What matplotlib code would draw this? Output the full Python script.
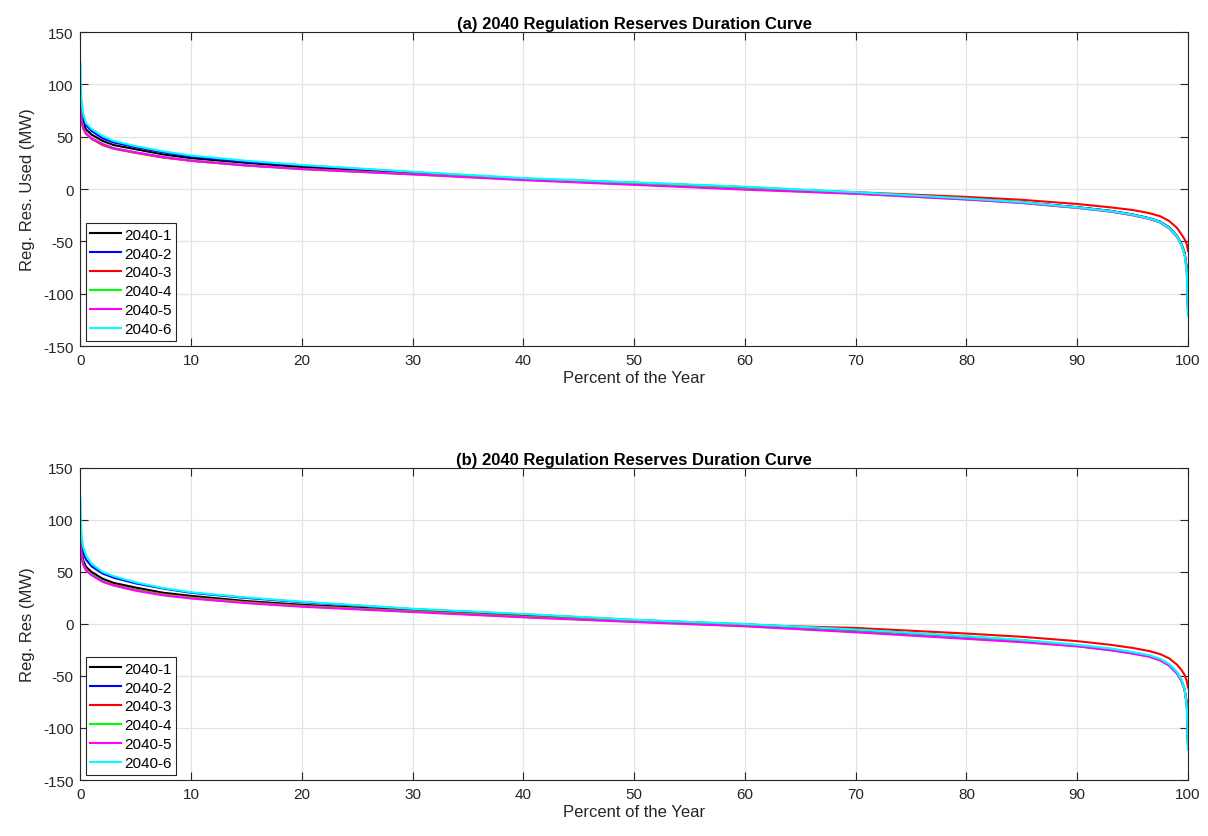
import matplotlib
matplotlib.use("Agg")
import matplotlib.pyplot as plt

plt.rcParams['font.family'] = ['Liberation Sans', 'DejaVu Sans']
plt.rcParams['axes.unicode_minus'] = False

# percent of the year at which values were read
pct = [0, 0.03, 0.1, 0.25, 0.5, 1, 2, 3, 5, 7.5, 10, 15, 20, 30, 40, 50, 60, 70, 80,
       85, 90, 93, 95, 96.5, 97.5, 98.3, 99, 99.4, 99.7, 99.9, 100]

nombres = ["2040-1", "2040-2", "2040-3", "2040-4", "2040-5", "2040-6"]
colores = ["#000000", "#0000ff", "#ff0000", "#00ff00", "#ff00ff", "#00ffff"]

# (a) Reg. Res. Used
a_1 = [90, 82, 72, 63, 57, 52, 46, 42, 38, 33, 29.5, 25, 21, 15.5, 9.5, 5.2, 1, -3.8, -9.5,
       -12.8, -17.3, -20.8, -24.3, -27.8, -31.2, -36.5, -44.5, -52, -61, -76, -110]
a_2 = [100, 90, 78, 68, 61, 55.5, 48.5, 44.5, 40, 35, 31, 26, 22.5, 16, 10, 6, 1.8, -3.5, -9.3,
       -12.7, -17.5, -21, -24.5, -28, -31.5, -37, -45, -53, -62, -78, -115]
a_3 = [85, 76, 66, 58, 53, 48, 42, 38.5, 34.5, 30, 27, 22.5, 19.5, 14.5, 9.5, 5, 0.5, -3, -7.5,
       -10.3, -14.3, -17.5, -20, -23, -26, -30.5, -37, -43, -48, -53, -59]
a_4 = [85, 76, 66, 58, 53, 48.5, 43, 39, 35, 30.5, 27, 22.5, 19, 14, 9, 4.5, 0, -4.5, -10,
       -13.3, -18, -21.5, -25, -28.5, -32, -37.5, -45.5, -53, -62, -77, -110]
a_5 = [80, 74, 65, 58, 53, 48.5, 43, 39, 35, 30.5, 27, 22.5, 19, 14, 8.5, 4, -0.6, -4.5, -10,
       -13.3, -18, -21.5, -25, -28.5, -32, -37.5, -45.5, -53, -62, -77, -115]
a_6 = [121, 100, 84, 72, 63, 57.5, 50.5, 46, 41, 36, 32, 27, 23, 16.5, 10.5, 6.4, 2.2, -3, -9,
       -12.5, -17.5, -21, -24.5, -28, -31.5, -37, -45, -53, -63, -80, -121]

# (b) Reg. Res
b_1 = [88, 80, 70, 61, 55, 50, 43.5, 39.5, 35, 30, 27, 22, 18.5, 13, 8, 3, -1, -6.5, -13,
       -16.3, -21, -24.5, -28, -31, -34.5, -39.5, -47, -54, -63, -77, -112]
b_2 = [100, 90, 79, 69, 62, 55.5, 48.5, 44.5, 39, 34, 30, 25, 21, 14.3, 9.2, 3.8, -0.3, -5.8, -12.2,
       -15.7, -20.5, -24, -27.5, -30.5, -34, -39, -46.5, -53.5, -63, -78, -118]
b_3 = [85, 76, 66, 58, 52.5, 47.5, 41, 37.5, 33, 28.5, 25.5, 21, 17.5, 12.5, 7.5, 3, -1, -3.8, -9.2,
       -12.3, -16.5, -20, -23, -26, -29, -33, -39, -44, -49, -55, -61]
b_4 = [84, 75, 65, 57, 52, 47.5, 41, 37, 32.5, 28, 25, 20.5, 17, 12, 6.8, 2.2, -2, -7.5, -13.8,
       -17, -21.3, -25, -28.3, -31.3, -35, -40, -47.5, -54.5, -63, -77, -112]
b_5 = [82, 75, 65, 57, 51.5, 47, 40.5, 37, 32, 27.5, 24.5, 20, 16.6, 11.5, 6.4, 1.9, -2.2, -8, -14.3,
       -17.5, -21.5, -25.3, -28.5, -31.5, -35, -40, -47.5, -54.5, -63, -77, -115]
b_6 = [121, 100, 85, 74, 66, 58, 50, 46, 40, 34.5, 30.5, 25.5, 21.4, 14.6, 9.6, 4.1, 0, -5.4, -11.8,
       -15.3, -20, -23.5, -27, -30, -33.5, -38.5, -46, -53, -63, -80, -121]

fig = plt.figure(figsize=(12.08, 8.37), dpi=100)
ax1 = fig.add_axes([0.0666, 0.5854, 0.9168, 0.3751])
ax2 = fig.add_axes([0.0666, 0.0669, 0.9168, 0.3728])

paneles = [
    (ax1, [a_1, a_2, a_3, a_4, a_5, a_6], "(a) 2040 Regulation Reserves Duration Curve", "Reg. Res. Used (MW)"),
    (ax2, [b_1, b_2, b_3, b_4, b_5, b_6], "(b) 2040 Regulation Reserves Duration Curve", "Reg. Res (MW)"),
]

for ax, series, titulo, ylab in paneles:
    for s, nom, col in zip(series, nombres, colores):
        ax.plot(pct, s, color=col, lw=1.5, label=nom)
    ax.set_xlim(0, 100)
    ax.set_ylim(-150, 150)
    ax.set_xticks(range(0, 101, 10))
    ax.set_yticks(range(-150, 151, 50))
    ax.grid(True, color="#e3e3e3", lw=0.9)
    ax.set_axisbelow(True)
    ax.tick_params(direction="in", top=True, right=True, length=6, labelsize=11,
                   colors="#262626", pad=5)
    for sp in ax.spines.values():
        sp.set_color("#262626")
        sp.set_linewidth(0.8)
    ax.set_title(titulo, fontsize=12, fontweight="bold", pad=3)
    ax.set_xlabel("Percent of the Year", fontsize=12, color="#262626", labelpad=2)
    ax.set_ylabel(ylab, fontsize=12, color="#262626", labelpad=6)
    leg = ax.legend(loc="lower left", fontsize=11, handlelength=2.0, handletextpad=0.2,
                    borderpad=0.3, labelspacing=0.32, fancybox=False, framealpha=1,
                    borderaxespad=0.35)
    leg.get_frame().set_edgecolor("#262626")
    leg.get_frame().set_linewidth(0.8)

fig.savefig("out.png", dpi=100)
